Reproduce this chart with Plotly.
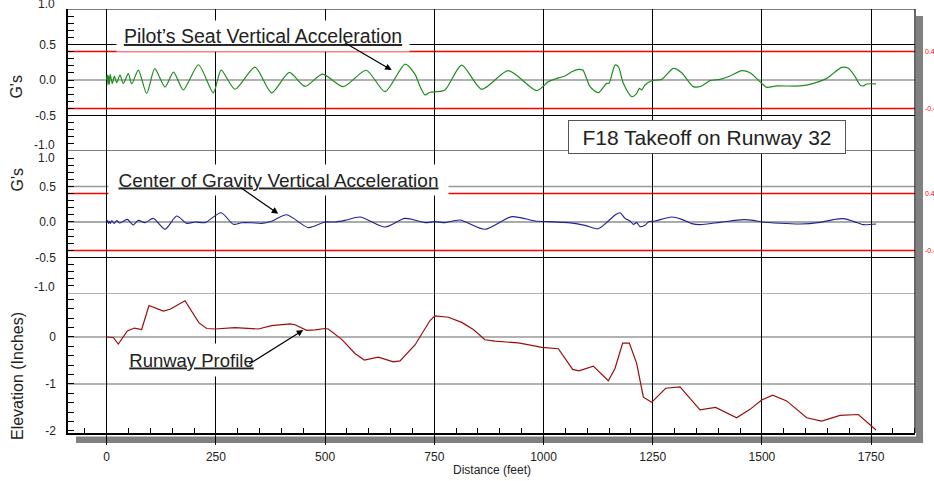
import plotly.graph_objects as go

# ---------------- data ----------------
seat_x = [0, 1.5, 3, 4.5, 6, 8, 12.9, 17.5, 22.8, 30.4, 38.1, 49.5, 57.2, 72.4, 91.5, 110, 133.5,
          153, 175.4, 210, 244.1, 262, 293.7, 339.5, 377.7, 418, 454, 494, 541.7, 594, 637.2,
          683, 705.9, 718, 728.8, 740.2, 755, 774.6, 812.7, 858.5, 919.5, 984.4, 1011, 1026,
          1049, 1064.6, 1079.8, 1090, 1106.5, 1125.5, 1144.7, 1150, 1163.7, 1171.3, 1182.8,
          1201.9, 1213.4, 1219.4, 1224.8, 1232.4, 1247.7, 1270.6, 1297.3, 1316.4, 1343, 1362.2,
          1381.2, 1404, 1427, 1453.7, 1472.8, 1499.5, 1511, 1533.9, 1587.3, 1617.8, 1648.4,
          1682.8, 1698, 1713.3, 1724.6, 1732.3, 1740, 1761.2]
seat_g = [0.0, 0.07, -0.07, 0.06, -0.06, 0.08, -0.05, 0.056, -0.04, 0.07, -0.05, 0.09, -0.056, 0.14, -0.19,
          0.16, -0.10, 0.11, -0.14, 0.215, -0.18, 0.14, -0.13, 0.18, -0.18, 0.107, -0.09, 0.084, -0.094,
          0.137, -0.164, 0.224, 0.08, -0.10, -0.21, -0.173, -0.165, -0.14, 0.21, -0.131, 0.131, -0.15,
          -0.023, 0.014, 0.056, 0.117, 0.15, 0.14, -0.094, -0.178, -0.047, -0.047, 0.21, 0.187, -0.047,
          -0.234, -0.187, -0.117, -0.14, -0.07, -0.01, 0.009, 0.164, 0.103, -0.094, -0.084,
          -0.009, 0.009, 0.056, 0.131, 0.103, -0.047, -0.103, -0.084, -0.084, -0.047, 0.023,
          0.178, 0.164, 0.047, -0.07, -0.084, -0.056, -0.056]

cg_x = [0, 2, 4, 6, 8, 12, 17, 23, 30, 38, 47.2, 60.9, 72.4, 87.6, 106.7, 133.5, 160.2, 183.1, 202.2,
        225.1, 262, 290, 309, 331.9, 354.8, 377.7, 412, 461.7, 499.8, 522.7, 545.6, 580, 637.2, 683,
        728.8, 751.7, 774.6, 809, 866.2, 927.3, 980.7, 1011.2, 1057, 1095, 1125.5, 1148.5, 1163.7,
        1175.2, 1186.6, 1198, 1205.7, 1213.3, 1221, 1232.4, 1240, 1255.3, 1293.5, 1316.4, 1339.3,
        1358.3, 1404, 1457.5, 1480.3, 1499.5, 1587.3, 1633, 1663.6, 1686.5, 1709.4, 1732.3, 1761.2]
cg_g = [0, 0.02, -0.02, 0.015, -0.02, 0.02, -0.02, 0.02, -0.015, 0.01, 0.037, -0.042, 0.023, -0.009,
        0.051, -0.103, 0.084, -0.019, 0.0, -0.009, 0.131, -0.033, -0.01, -0.01, -0.02, 0.01, 0.103,
        -0.079, 0.0, 0.0, 0.023, 0.07, -0.07, 0.051, -0.009, 0.005, -0.009, 0.028, -0.103, 0.075,
        0.014, 0.005, -0.009, -0.047, -0.094, 0.014, 0.098, 0.131, 0.051, 0.014, -0.033, -0.009,
        -0.065, -0.047, 0.0, 0.014, 0.07, 0.037, -0.023, -0.037, -0.005, 0.033, 0.023, 0.0,
        -0.028, -0.005, 0.033, 0.047, 0.009, -0.037, -0.028]

elev_x = [0, 15.2, 26.6, 47.3, 63.3, 80, 96.8, 129.7, 145, 179.3, 211.3, 228.9, 248, 293.7, 347,
          377.7, 419.6, 431, 457.8, 476.8, 499.7, 507.3, 538, 568.4, 589.8, 621.9, 656.2, 671.5,
          705.8, 740.2, 751.6, 782.2, 812.7, 839.4, 866, 889, 934.8, 946.2, 995.9, 1034, 1066.8,
          1081.3, 1114, 1148.4, 1163.7, 1181.2, 1196.5, 1213.3, 1228.6, 1247.6, 1279.7, 1312.5,
          1358.3, 1394.1, 1442.2, 1472.7, 1499.5, 1524.7, 1556.7, 1602.5, 1636.9, 1678.8, 1720.7,
          1761.2]
elev_in = [0, -0.01, -0.15, 0.13, 0.19, 0.16, 0.67, 0.55, 0.59, 0.77, 0.30, 0.18, 0.17, 0.20, 0.17,
           0.24, 0.28, 0.26, 0.14, 0.15, 0.18, 0.17, -0.05, -0.35, -0.49, -0.43, -0.53, -0.51,
           -0.17, 0.35, 0.45, 0.42, 0.31, 0.16, -0.06, -0.09, -0.12, -0.13, -0.22, -0.25, -0.69,
           -0.72, -0.62, -0.93, -0.67, -0.13, -0.13, -0.56, -1.28, -1.39, -1.09, -1.06,
           -1.55, -1.50, -1.72, -1.54, -1.34, -1.24, -1.36, -1.72, -1.79, -1.67, -1.65,
           -1.98]

g_ticks = [0.5, 0.0, -0.5]
g_ticktext = ["0.5", "0.0", "-0.5"]
elev_ticks = [0, -1, -2]
elev_ticktext = ["0", "-1", "-2"]
dist_ticks = [0, 250, 500, 750, 1000, 1250, 1500, 1750]
limit_g = 0.4

FONT = "Liberation Sans, Arial, sans-serif"
XR = [-88.6, 1850.5]

fig = go.Figure()
fig.add_trace(go.Scatter(x=seat_x, y=seat_g, mode="lines", line=dict(color="#1e8c1e", width=1.2, shape="spline", smoothing=0.7),
                         xaxis="x", yaxis="y", showlegend=False, hoverinfo="skip"))
fig.add_trace(go.Scatter(x=cg_x, y=cg_g, mode="lines", line=dict(color="#20209a", width=1.1, shape="spline", smoothing=0.7),
                         xaxis="x2", yaxis="y2", showlegend=False, hoverinfo="skip"))
fig.add_trace(go.Scatter(x=elev_x, y=elev_in, mode="lines", line=dict(color="#9a0d0d", width=1.2),
                         xaxis="x3", yaxis="y3", showlegend=False, hoverinfo="skip"))

xcommon = dict(range=XR, showgrid=True, gridcolor="black", gridwidth=1, tickmode="array",
               tickvals=dist_ticks, zeroline=False, showline=False)
ycommon = dict(showgrid=False, zeroline=False, showline=True, linecolor="black", linewidth=1.5,
               ticks="inside", ticklen=6, tickcolor="black", tickmode="array",
               tickfont=dict(family=FONT, size=12, color="#222"), ticklabelstandoff=8)

fig.update_layout(
    width=934, height=481,
    margin=dict(l=68, r=19, t=9, b=48),
    paper_bgcolor="white", plot_bgcolor="white",
    font=dict(family=FONT),
    xaxis=dict(xcommon, anchor="y", matches="x3", showticklabels=False, ticks=""),
    xaxis2=dict(xcommon, anchor="y2", matches="x3", showticklabels=False, ticks=""),
    xaxis3=dict(xcommon, anchor="y3", showticklabels=True, ticks="outside", ticklen=10, tickcolor="black",
                tickwidth=1, showline=True, linecolor="black", linewidth=2,
                ticktext=[str(v) for v in dist_ticks],
                tickfont=dict(family=FONT, size=12, color="#222"), ticklabelstandoff=2,
                minor=dict(tickmode="linear", tick0=0, dtick=50, ticks="inside", ticklen=5,
                           tickcolor="black", showgrid=False)),
    yaxis=dict(ycommon, domain=[0.6651, 1.0], range=[-1, 1], tickvals=g_ticks, ticktext=g_ticktext,
               minor=dict(tickmode="linear", tick0=0, dtick=0.1, ticks="inside", ticklen=6, tickcolor="black", showgrid=False)),
    yaxis2=dict(ycommon, domain=[0.3302, 0.6651], range=[-1, 1], tickvals=g_ticks, ticktext=g_ticktext,
                minor=dict(tickmode="linear", tick0=0, dtick=0.1, ticks="inside", ticklen=6, tickcolor="black", showgrid=False)),
    yaxis3=dict(ycommon, domain=[0, 0.3302], range=[-2.043, 0.936], tickvals=elev_ticks, ticktext=elev_ticktext,
                minor=dict(tickmode="linear", tick0=0, dtick=0.2, ticks="inside", ticklen=6, tickcolor="black", showgrid=False)),
)

shapes = []
# drop shadow
shapes.append(dict(type="rect", xref="paper", yref="paper", x0=1.0012, x1=1.0095, y0=-0.0236, y1=0.9835,
                   fillcolor="#808080", line=dict(width=0), layer="below"))
shapes.append(dict(type="rect", xref="paper", yref="paper", x0=0.0095, x1=1.0095, y0=-0.0236, y1=-0.0085,
                   fillcolor="#808080", line=dict(width=0), layer="below"))
# horizontal grid lines
hlines = [
    ("y", 1.0, "black", 1), ("y", 0.5, "black", 1), ("y", 0.0, "#999999", 1.5), ("y", -0.5, "black", 1),
    ("y", -1.0, "black", 1.2),
    ("y2", 0.5, "#999999", 1.5), ("y2", 0.0, "#555555", 1), ("y2", -0.5, "black", 1),
    ("y3", 0.936, "#999999", 1.5), ("y3", 0.0, "#999999", 1.5), ("y3", -1.0, "#999999", 1.5),
]
for yr, v, c, w in hlines:
    shapes.append(dict(type="line", xref="paper", yref=yr, x0=0, x1=1, y0=v, y1=v,
                       line=dict(color=c, width=w), layer="between"))
for yr in ("y", "y2"):
    for v in (limit_g, -limit_g):
        shapes.append(dict(type="line", xref="paper", yref=yr, x0=0, x1=1, y0=v, y1=v,
                           line=dict(color="#ff0000", width=1.5), layer="between"))
# right border
shapes.append(dict(type="line", xref="paper", yref="paper", x0=1, x1=1, y0=0, y1=1,
                   line=dict(color="black", width=1.2)))
fig.update_layout(shapes=shapes)

ann = []
# boundary tick labels
for yr, v, txt, sh in [("y", 1.0, "1.0", 5.5), ("y", -1.0, "-1.0", 6.5), ("y2", 1.0, "1.0", -7), ("y2", -1.0, "-1.0", 6)]:
    ann.append(dict(xref="paper", yref=yr, x=0, y=v, text=txt, showarrow=False, xanchor="right",
                    yanchor="middle", xshift=-11, yshift=sh, font=dict(family=FONT, size=12, color="#222")))
# right red limit labels
for yr in ("y", "y2"):
    for v in (limit_g, -limit_g):
        ann.append(dict(xref="paper", yref=yr, x=1, y=v, text=f"{v:.1f}", showarrow=False, xanchor="left",
                        yanchor="middle", xshift=8, font=dict(family=FONT, size=7, color="#ff0000")))
# axis titles
ann.append(dict(xref="paper", yref="paper", x=-0.0602, y=0.817, text="G's", textangle=-90, showarrow=False,
                font=dict(family=FONT, size=16, color="#222"), xanchor="center", yanchor="middle"))
ann.append(dict(xref="paper", yref="paper", x=-0.0602, y=0.598, text="G's", textangle=-90, showarrow=False,
                font=dict(family=FONT, size=16, color="#222"), xanchor="center", yanchor="middle"))
ann.append(dict(xref="paper", yref="paper", x=-0.0602, y=0.1344, text="Elevation (Inches)", textangle=-90,
                showarrow=False, font=dict(family=FONT, size=16, color="#222"), xanchor="center", yanchor="middle"))
ann.append(dict(xref="paper", yref="paper", x=0.5, y=-0.0873, text="Distance (feet)", showarrow=False,
                font=dict(family=FONT, size=12, color="#222"), xanchor="center", yanchor="middle"))
# labels
ann.append(dict(xref="x", yref="y", x=358.5, y=0.617, text="<u>Pilot\u2019s Seat Vertical Acceleration</u>",
                showarrow=False, bgcolor="white", width=290, height=28, font=dict(family=FONT, size=19.5, color="#222")))
ann.append(dict(xref="x2", yref="y2", x=394.2, y=0.593, text="<u>Center of Gravity Vertical Acceleration</u>",
                showarrow=False, bgcolor="white", width=337, height=28, font=dict(family=FONT, size=19, color="#222")))
ann.append(dict(xref="x3", yref="y3", x=194.6, y=-0.49, text="<u>Runway Profile</u>",
                showarrow=False, bgcolor="white", width=135, height=30, font=dict(family=FONT, size=18.5, color="#222")))
ann.append(dict(xref="x", yref="y", x=1373.6, y=-0.80, text="F18 Takeoff on Runway 32",
                showarrow=False, bgcolor="white", width=274, height=30, bordercolor="#555", borderwidth=1,
                font=dict(family=FONT, size=21, color="#222")))
# arrows
for xr, yr, hx, hy, tx, ty in [("x", "y", 652.5, 0.14, 541.7, 0.537),
                                ("x2", "y2", 392.8, 0.116, 302.9, 0.499),
                                ("x3", "y3", 450.1, 0.149, 322.8, -0.596)]:
    ann.append(dict(xref=xr, yref=yr, x=hx, y=hy, axref=xr, ayref=yr, ax=tx, ay=ty, text="",
                    showarrow=True, arrowhead=2, arrowsize=1.1, arrowwidth=1.2, arrowcolor="black",
                    standoff=0, startstandoff=0))
fig.update_layout(annotations=ann)

fig.write_html("out.html", config={"displayModeBar": False},
               post_script="document.body.style.margin='0';document.body.style.overflow='hidden';")
